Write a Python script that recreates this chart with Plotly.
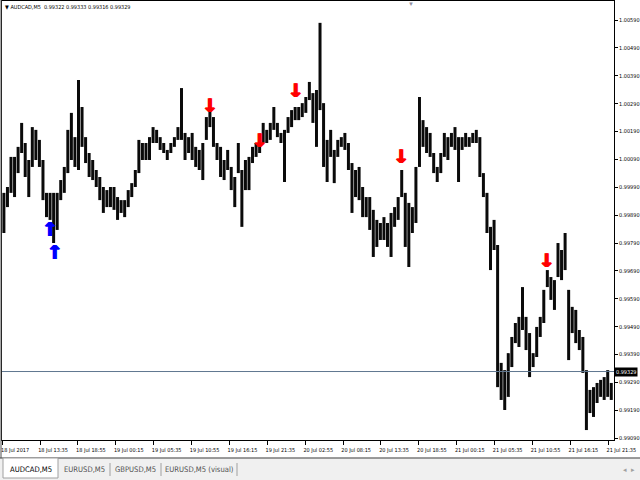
import pandas as pd
import plotly.graph_objects as go

# ---------------- data ----------------
symbol = "AUDCAD,M5"
last_ohlc = [0.99322, 0.99333, 0.99316, 0.99329]
bid_price = 0.99329
start_time = "2017-07-18 08:30"
bar_step = "30min"

highs = [
    0.99970, 0.99991, 1.00099, 1.00099, 1.00135, 1.00221, 1.00149, 1.00088, 1.00206, 1.00196,
    1.00160, 1.00088, 0.99970, 0.99970, 0.99970, 0.99970, 1.00016, 1.00063, 1.00196, 1.00257,
    1.00170, 1.00375, 1.00278, 1.00170, 1.00113, 1.00088, 1.00052, 1.00027, 0.99991, 0.99980,
    0.99991, 0.99991, 0.99955, 0.99944, 0.99944, 0.99980, 1.00005, 1.00052, 1.00160, 1.00149,
    1.00149, 1.00170, 1.00206, 1.00196, 1.00170, 1.00149, 1.00124, 1.00149, 1.00170, 1.00206,
    1.00346, 1.00185, 1.00170, 1.00185, 1.00135, 1.00124, 1.00149, 1.00242, 1.00267, 1.00242,
    1.00149, 1.00135, 1.00088, 1.00124, 1.00063, 1.00027, 1.00149, 1.00052, 1.00088, 1.00099,
    1.00135, 1.00149, 1.00160, 1.00221, 1.00196, 1.00221, 1.00278, 1.00221, 1.00185, 1.00196,
    1.00242, 1.00267, 1.00278, 1.00278, 1.00292, 1.00314, 1.00368, 1.00328, 1.00339, 1.00580,
    1.00292, 1.00160, 1.00196, 1.00124, 1.00160, 1.00170, 1.00185, 1.00149, 1.00077, 1.00052,
    1.00063, 0.99991, 0.99955, 0.99955, 0.99909, 0.99873, 0.99862, 0.99883, 0.99862, 0.99898,
    0.99919, 0.99955, 1.00052, 0.99970, 0.99934, 0.99919, 1.00063, 1.00314, 1.00231, 1.00206,
    1.00185, 1.00113, 1.00063, 1.00113, 1.00185, 1.00170, 1.00185, 1.00206, 1.00170, 1.00170,
    1.00185, 1.00170, 1.00185, 1.00196, 1.00170, 1.00041, 0.99970, 0.99848, 0.99873, 0.99783,
    0.99360, 0.99334, 0.99395, 0.99453, 0.99503, 0.99525, 0.99632, 0.99525, 0.99467, 0.99395,
    0.99489, 0.99525, 0.99622, 0.99693, 0.99668, 0.99657, 0.99790, 0.99765, 0.99826, 0.99622,
    0.99561, 0.99550, 0.99478, 0.99453, 0.99334, 0.99263, 0.99273, 0.99288, 0.99299, 0.99309,
    0.99334, 0.99288,
]
lows = [
    0.99826, 0.99919, 0.99970, 0.99955, 1.00041, 1.00113, 1.00027, 0.99955, 1.00063, 1.00088,
    1.00063, 0.99944, 0.99883, 0.99873, 0.99790, 0.99837, 0.99944, 0.99970, 1.00041, 1.00088,
    1.00063, 1.00052, 1.00135, 1.00077, 1.00027, 1.00016, 0.99991, 0.99944, 0.99898, 0.99919,
    0.99919, 0.99909, 0.99873, 0.99898, 0.99883, 0.99919, 0.99955, 0.99991, 1.00041, 1.00088,
    1.00088, 1.00088, 1.00149, 1.00149, 1.00124, 1.00113, 1.00088, 1.00113, 1.00135, 1.00160,
    1.00160, 1.00088, 1.00113, 1.00088, 1.00063, 1.00052, 1.00016, 1.00160, 1.00206, 1.00135,
    1.00088, 1.00027, 1.00016, 1.00052, 0.99980, 0.99919, 1.00041, 0.99848, 0.99980, 0.99980,
    1.00077, 1.00099, 1.00113, 1.00149, 1.00149, 1.00160, 1.00196, 1.00170, 1.00149, 1.00009,
    1.00185, 1.00206, 1.00231, 1.00231, 1.00242, 1.00257, 1.00303, 1.00221, 1.00135, 1.00267,
    1.00063, 1.00009, 1.00099, 1.00005, 1.00099, 1.00135, 1.00124, 1.00052, 0.99898, 0.99955,
    0.99944, 0.99883, 0.99883, 0.99837, 0.99740, 0.99776, 0.99801, 0.99801, 0.99776, 0.99740,
    0.99848, 0.99873, 0.99955, 0.99776, 0.99704, 0.99826, 0.99862, 1.00063, 1.00135, 1.00113,
    1.00099, 1.00041, 1.00009, 1.00041, 1.00099, 1.00088, 1.00135, 1.00124, 1.00009, 1.00124,
    1.00135, 1.00135, 1.00149, 1.00149, 1.00027, 0.99955, 0.99826, 0.99693, 0.99765, 0.99273,
    0.99227, 0.99191, 0.99238, 0.99345, 0.99431, 0.99417, 0.99478, 0.99406, 0.99309, 0.99345,
    0.99381, 0.99453, 0.99503, 0.99632, 0.99586, 0.99550, 0.99668, 0.99657, 0.99693, 0.99370,
    0.99467, 0.99431, 0.99406, 0.99324, 0.99119, 0.99180, 0.99166, 0.99216, 0.99238, 0.99227,
    0.99238, 0.99227,
]

sell_times = ["2017-07-19 13:30", "2017-07-19 20:30", "2017-07-20 01:35",
              "2017-07-20 16:25", "2017-07-21 12:55"]
sell_prices = [1.00242, 1.00117, 1.00296, 1.00059, 0.99686]
buy_times = ["2017-07-18 15:00", "2017-07-18 15:40"]
buy_prices = [0.99866, 0.99783]

tick_times = ["2017-07-18 08:15", "2017-07-18 13:35", "2017-07-18 18:55", "2017-07-19 00:15",
              "2017-07-19 05:35", "2017-07-19 10:55", "2017-07-19 16:15", "2017-07-19 21:35",
              "2017-07-20 02:55", "2017-07-20 08:15", "2017-07-20 13:35", "2017-07-20 18:55",
              "2017-07-21 00:15", "2017-07-21 05:35", "2017-07-21 10:55", "2017-07-21 16:15",
              "2017-07-21 21:35"]
tick_labels = ["18 Jul 2017", "18 Jul 13:35", "18 Jul 18:55", "19 Jul 00:15", "19 Jul 05:35",
               "19 Jul 10:55", "19 Jul 16:15", "19 Jul 21:35", "20 Jul 02:55", "20 Jul 08:15",
               "20 Jul 13:35", "20 Jul 18:55", "21 Jul 00:15", "21 Jul 05:35", "21 Jul 10:55",
               "21 Jul 16:15", "21 Jul 21:35"]
tab_labels = ["AUDCAD,M5", "EURUSD,M5", "GBPUSD,M5", "EURUSD,M5 (visual)"]

# ---------------- figure ----------------
times = pd.date_range(start_time, periods=len(highs), freq=bar_step)
FONT = "DejaVu Sans Condensed, DejaVu Sans, sans-serif"

fig = go.Figure()
fig.add_trace(go.Ohlc(
    x=times, open=lows, high=highs, low=lows, close=highs,
    increasing=dict(line=dict(color="#0a0a0a", width=3)),
    decreasing=dict(line=dict(color="#0a0a0a", width=3)),
    tickwidth=0, hoverinfo="skip", showlegend=False,
))
fig.add_trace(go.Scatter(
    x=sell_times, y=sell_prices, mode="text", text=["↓"] * len(sell_times),
    textposition="top center",
    textfont=dict(color="#ff0000", size=19, family="DejaVu Sans", weight="bold",
                  shadow="1px 0px 0px #ff0000, -1px 0px 0px #ff0000"),
    showlegend=False, hoverinfo="skip", cliponaxis=False,
))
fig.add_trace(go.Scatter(
    x=buy_times, y=buy_prices, mode="text", text=["↑"] * len(buy_times),
    textposition="bottom center",
    textfont=dict(color="#0000ff", size=19, family="DejaVu Sans", weight="bold",
                  shadow="1px 0px 0px #0000ff, -1px 0px 0px #0000ff"),
    showlegend=False, hoverinfo="skip", cliponaxis=False,
))

W, H = 640, 480
L, R, T, B = 2, 26, 1, 40
pw, ph = W - L - R, H - T - B


def fx(px):
    return (px - L) / pw


def fy(py):
    return (H - B - py) / ph


shapes = [
    dict(type="line", xref="paper", yref="y", x0=0, x1=1, y0=bid_price, y1=bid_price,
         line=dict(color="#5f7690", width=1)),
    # tab bar
    dict(type="rect", xref="paper", yref="paper", x0=fx(0), x1=fx(640), y0=fy(458), y1=fy(481),
         fillcolor="#f0f0f0", line=dict(width=0), layer="below"),
    dict(type="line", xref="paper", yref="paper", x0=fx(0), x1=fx(640), y0=fy(458), y1=fy(458),
         line=dict(color="#7a7a7a", width=1.5)),
    dict(type="rect", xref="paper", yref="paper", x0=fx(3), x1=fx(58), y0=fy(458), y1=fy(478),
         fillcolor="#ffffff", line=dict(color="#a0a0a0", width=1)),
    # outer window left line
    dict(type="line", xref="paper", yref="paper", x0=fx(1), x1=fx(1), y0=fy(0), y1=fy(458),
         line=dict(color="#505050", width=1)),
]
for sx in [110, 161, 237]:
    shapes.append(dict(type="line", xref="paper", yref="paper", x0=fx(sx), x1=fx(sx),
                       y0=fy(463), y1=fy(476), line=dict(color="#a0a0a0", width=1)))

annotations = [
    dict(xref="paper", yref="paper", x=fx(3), y=fy(7), xanchor="left", yanchor="middle",
         text="▼ " + symbol + "  " + " ".join(f"{v:.5f}" for v in last_ohlc),
         showarrow=False, font=dict(size=5.5, color="#000000", family=FONT)),
    dict(xref="paper", yref="y", x=1, y=bid_price, xanchor="left", yanchor="middle",
         text=f"{bid_price:.5f}", showarrow=False, bgcolor="#000000",
         font=dict(size=5.5, color="#ffffff", family=FONT), borderpad=1),
    dict(xref="paper", yref="paper", x=fx(411), y=fy(4), xanchor="center", yanchor="middle",
         text="▼", showarrow=False, font=dict(size=6, color="#9090a0")),
    dict(xref="paper", yref="paper", x=fx(629), y=fy(469), xanchor="center", yanchor="middle",
         text="◂  ▸", showarrow=False, font=dict(size=7, color="#a0a0a0")),
]
tab_centers = [31, 84, 135.5, 199]
for i, (lab, cx) in enumerate(zip(tab_labels, tab_centers)):
    annotations.append(dict(xref="paper", yref="paper", x=fx(cx), y=fy(469), xanchor="center",
                            yanchor="middle", text=lab, showarrow=False,
                            font=dict(size=7.6, family=FONT,
                                      color="#000000" if i == 0 else "#505050")))

fig.update_layout(
    width=W, height=H, margin=dict(l=L, r=R, t=T, b=B, autoexpand=False),
    paper_bgcolor="#ffffff", plot_bgcolor="#ffffff",
    shapes=shapes, annotations=annotations, showlegend=False,
    xaxis=dict(
        type="date", range=["2017-07-18 08:14", "2017-07-21 22:23"], automargin=False,
        rangeslider=dict(visible=False), showgrid=False, zeroline=False,
        tickmode="array", tickvals=tick_times, ticktext=tick_labels,
        ticks="outside", ticklen=4, tickcolor="#000000", ticklabelshift=13,
        tickfont=dict(size=5.5, color="#000000", family=FONT),
        showline=True, mirror=True, linecolor="#000000", linewidth=1,
    ),
    yaxis=dict(
        side="right", range=[0.990833, 1.006584], automargin=False,
        showgrid=False, zeroline=False,
        tickmode="linear", tick0=0.9909, dtick=0.001, tickformat=".5f",
        ticks="outside", ticklen=3, tickcolor="#000000",
        tickfont=dict(size=5.5, color="#000000", family=FONT),
        showline=True, mirror=True, linecolor="#000000", linewidth=1,
    ),
)

fig.write_html("out.html", config={"displayModeBar": False},
               post_script="document.body.style.margin='0';document.body.style.overflow='hidden';")
